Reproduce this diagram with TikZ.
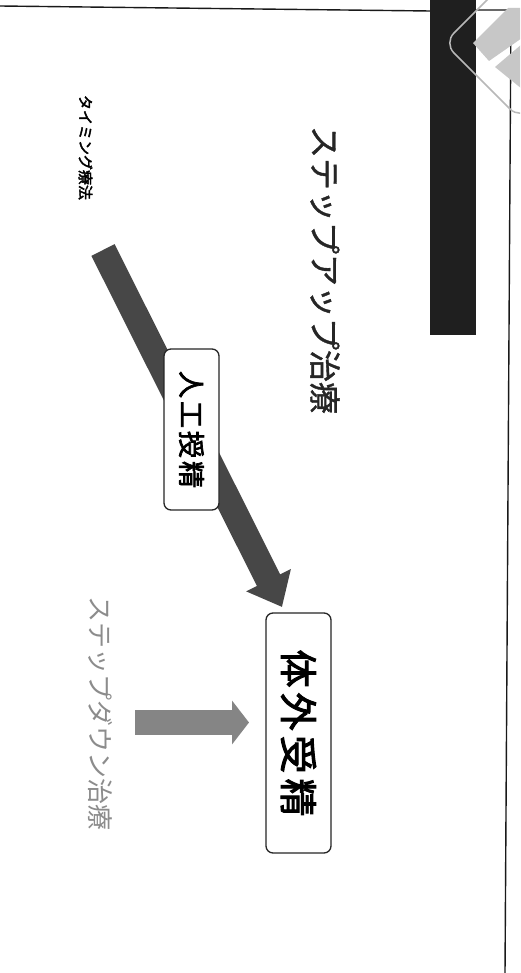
\documentclass[tikz,border=0pt]{standalone}
\usepackage{fontspec}
\usetikzlibrary{arrows.meta}
\newfontfamily\jp{Noto Sans CJK JP}
\newfontfamily\jpm[FakeBold=1.2]{Noto Sans CJK JP}
\newfontfamily\jpb[FakeBold=2.6]{Noto Sans CJK JP}
\begin{document}
\begin{tikzpicture}[x=1pt,y=-1pt,
  frameline/.style={draw=black!90, line width=1.4pt},
  titlebar/.style={fill=black!88, draw=none},
  logoline/.style={draw=black!28, line width=1.5pt, rounded corners=14pt},
  logofill/.style={fill=black!22, draw=none},
  jbox/.style={draw=black!85, line width=1.3pt, rounded corners=7pt, fill=white, rotate=-90, inner sep=0pt, align=center},
  jtext/.style={rotate=-90, inner sep=0pt},
  bigarrow/.style={draw=black!72, line width=26pt, -{Triangle[width=48pt,length=30pt]}},
  grayarrow/.style={draw=black!48, line width=25pt, -{Triangle[width=43pt,length=17pt]}}
]
\clip (0,0) rectangle (520,973);
\fill[white] (0,0) rectangle (520,973);

% frame
\draw[frameline] (0,6) -- (430,11);
\draw[frameline] (476,10) -- (511,10) -- (505,973);

% title bar
\fill[titlebar] (430,0) rectangle (476,335);

% logo decoration
\fill[logofill] (473,43) -- (508,8) -- (522,8) -- (522,38) -- (489,61) -- cycle;
\fill[logofill] (495,67) -- (522,44) -- (522,89) -- cycle;
\draw[logoline] (520,-33) -- (444,43) -- (520,119) -- (596,43) -- cycle;

% texts
\node[jtext, font=\jpb\fontsize{15}{15}\selectfont] (timing) at (85.5,147.5) {タイミング療法};
\node[jtext, font=\jpm\fontsize{32}{32}\selectfont, text=black!85] (stepup) at (325,270) {ステップアップ治療};
\node[jtext, font=\jp\fontsize{26}{26}\selectfont, text=black!45] (stepdown) at (100,713) {ステップダウン治療};

% arrows
\coordinate (a1) at (103,250);
\coordinate (a1tip) at (282,607);
\draw[bigarrow] (a1) -- (a1tip);

\coordinate (a2) at (135,722.5);
\coordinate (a2tip) at (249,722.5);
\draw[grayarrow] (a2) -- (a2tip);

% boxes
\node[jbox, minimum width=161pt, minimum height=55pt, font=\jpb\fontsize{27}{27}\selectfont] (ai) at (191.5,429.5) {人\kern3pt 工\kern3pt 授\kern3pt 精};
\node[jbox, minimum width=240pt, minimum height=65pt, font=\jpb\fontsize{38}{38}\selectfont] (ivf) at (298.5,733) {体\kern5pt 外\kern5pt 受\kern5pt 精};
\end{tikzpicture}
\end{document}
